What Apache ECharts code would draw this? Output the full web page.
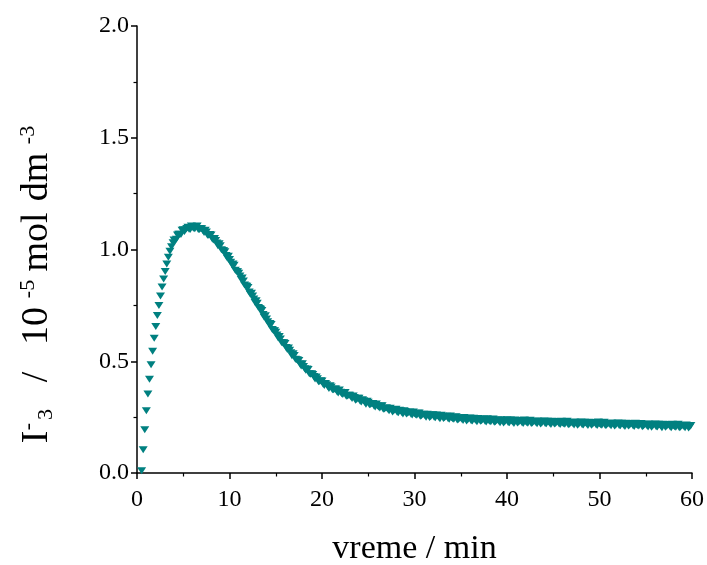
<!DOCTYPE html>
<html>
<head>
<meta charset="utf-8">
<script src="https://cdn.jsdelivr.net/npm/echarts@6/dist/echarts.min.js"></script>
<style>
  html, body { margin: 0; padding: 0; background: #fff; }
  #chart { width: 707px; height: 565px; }
</style>
</head>
<body>
<div id="chart"></div>
<script>
// rise phase, sparse points (min, 10^-5 mol dm^-3)
const riseTime = [0.5, 0.67, 0.84, 1.01, 1.18, 1.35, 1.52, 1.69, 1.86, 2.03, 2.2,
  2.37, 2.54, 2.71, 2.88, 3.05, 3.22, 3.39, 3.56, 3.73, 3.9];
const riseValue = [0.01, 0.104, 0.194, 0.278, 0.353, 0.42, 0.484, 0.545, 0.603, 0.655, 0.705,
  0.75, 0.792, 0.832, 0.868, 0.902, 0.935, 0.965, 0.992, 1.012, 1.03];

// peak + decay phase (quarter-minute samples)
const decayTime = [
  4, 4.25, 4.5, 4.75, 5, 5.25, 5.5, 5.75, 6, 6.25, 6.5, 6.75, 7, 7.25, 7.5, 7.75,
  8, 8.25, 8.5, 8.75, 9, 9.25, 9.5, 9.75, 10, 10.25, 10.5, 10.75, 11, 11.25, 11.5, 11.75,
  12, 12.25, 12.5, 12.75, 13, 13.25, 13.5, 13.75, 14, 14.25, 14.5, 14.75, 15, 15.25, 15.5, 15.75,
  16, 16.25, 16.5, 16.75, 17, 17.25, 17.5, 17.75, 18, 18.25, 18.5, 18.75, 19, 19.25, 19.5, 19.75,
  20, 20.25, 20.5, 20.75, 21, 21.25, 21.5, 21.75, 22, 22.25, 22.5, 22.75, 23, 23.25, 23.5, 23.75,
  24, 24.25, 24.5, 24.75, 25, 25.25, 25.5, 25.75, 26, 26.25, 26.5, 26.75, 27, 27.25, 27.5, 27.75,
  28, 28.25, 28.5, 28.75, 29, 29.25, 29.5, 29.75, 30, 30.25, 30.5, 30.75, 31, 31.25, 31.5, 31.75,
  32, 32.25, 32.5, 32.75, 33, 33.25, 33.5, 33.75, 34, 34.25, 34.5, 34.75, 35, 35.25, 35.5, 35.75,
  36, 36.25, 36.5, 36.75, 37, 37.25, 37.5, 37.75, 38, 38.25, 38.5, 38.75, 39, 39.25, 39.5, 39.75,
  40, 40.25, 40.5, 40.75, 41, 41.25, 41.5, 41.75, 42, 42.25, 42.5, 42.75, 43, 43.25, 43.5, 43.75,
  44, 44.25, 44.5, 44.75, 45, 45.25, 45.5, 45.75, 46, 46.25, 46.5, 46.75, 47, 47.25, 47.5, 47.75,
  48, 48.25, 48.5, 48.75, 49, 49.25, 49.5, 49.75, 50, 50.25, 50.5, 50.75, 51, 51.25, 51.5, 51.75,
  52, 52.25, 52.5, 52.75, 53, 53.25, 53.5, 53.75, 54, 54.25, 54.5, 54.75, 55, 55.25, 55.5, 55.75,
  56, 56.25, 56.5, 56.75, 57, 57.25, 57.5, 57.75, 58, 58.25, 58.5, 58.75, 59, 59.25, 59.5, 59.75
];
const decayValue = [
  1.043, 1.046, 1.068, 1.067, 1.088, 1.087, 1.099, 1.089, 1.099, 1.093, 1.105, 1.090, 1.093, 1.076, 1.078, 1.064,
  1.065, 1.042, 1.040, 1.017, 1.017, 0.996, 0.990, 0.962, 0.955, 0.933, 0.930, 0.902, 0.894, 0.867, 0.859, 0.837,
  0.830, 0.800, 0.792, 0.764, 0.760, 0.736, 0.727, 0.697, 0.689, 0.667, 0.664, 0.637, 0.630, 0.605, 0.600, 0.582,
  0.579, 0.553, 0.549, 0.525, 0.526, 0.507, 0.503, 0.479, 0.476, 0.460, 0.463, 0.442, 0.441, 0.421, 0.422, 0.409,
  0.412, 0.392, 0.395, 0.378, 0.385, 0.373, 0.376, 0.358, 0.361, 0.351, 0.360, 0.344, 0.348, 0.333, 0.338, 0.329,
  0.335, 0.318, 0.323, 0.308, 0.317, 0.307, 0.311, 0.295, 0.300, 0.291, 0.301, 0.286, 0.291, 0.278, 0.284, 0.277,
  0.285, 0.270, 0.277, 0.264, 0.275, 0.267, 0.273, 0.259, 0.265, 0.258, 0.269, 0.256, 0.263, 0.250, 0.258, 0.252,
  0.261, 0.247, 0.255, 0.243, 0.255, 0.247, 0.254, 0.240, 0.247, 0.240, 0.252, 0.239, 0.246, 0.235, 0.243, 0.237,
  0.246, 0.233, 0.241, 0.229, 0.242, 0.234, 0.242, 0.228, 0.236, 0.229, 0.242, 0.229, 0.237, 0.225, 0.234, 0.228,
  0.238, 0.225, 0.233, 0.222, 0.235, 0.227, 0.235, 0.222, 0.230, 0.223, 0.236, 0.224, 0.231, 0.220, 0.229, 0.223,
  0.233, 0.220, 0.228, 0.217, 0.230, 0.222, 0.230, 0.217, 0.224, 0.218, 0.231, 0.218, 0.226, 0.215, 0.224, 0.218,
  0.228, 0.215, 0.224, 0.212, 0.225, 0.218, 0.226, 0.213, 0.220, 0.214, 0.227, 0.214, 0.222, 0.211, 0.220, 0.214,
  0.224, 0.211, 0.219, 0.208, 0.221, 0.214, 0.221, 0.208, 0.216, 0.210, 0.222, 0.210, 0.218, 0.206, 0.215, 0.210,
  0.219, 0.206, 0.215, 0.203, 0.216, 0.209, 0.217, 0.203, 0.211, 0.205, 0.218, 0.205, 0.213, 0.202, 0.211, 0.206
];

// the in-between samples of the same band
const decayTimeB = [
  4.125, 4.375, 4.625, 4.875, 5.125, 5.375, 5.625, 5.875, 6.125, 6.375, 6.625, 6.875, 7.125, 7.375, 7.625, 7.875,
  8.125, 8.375, 8.625, 8.875, 9.125, 9.375, 9.625, 9.875, 10.125, 10.375, 10.625, 10.875, 11.125, 11.375, 11.625, 11.875,
  12.125, 12.375, 12.625, 12.875, 13.125, 13.375, 13.625, 13.875, 14.125, 14.375, 14.625, 14.875, 15.125, 15.375, 15.625, 15.875,
  16.125, 16.375, 16.625, 16.875, 17.125, 17.375, 17.625, 17.875, 18.125, 18.375, 18.625, 18.875, 19.125, 19.375, 19.625, 19.875,
  20.125, 20.375, 20.625, 20.875, 21.125, 21.375, 21.625, 21.875, 22.125, 22.375, 22.625, 22.875, 23.125, 23.375, 23.625, 23.875,
  24.125, 24.375, 24.625, 24.875, 25.125, 25.375, 25.625, 25.875, 26.125, 26.375, 26.625, 26.875, 27.125, 27.375, 27.625, 27.875,
  28.125, 28.375, 28.625, 28.875, 29.125, 29.375, 29.625, 29.875, 30.125, 30.375, 30.625, 30.875, 31.125, 31.375, 31.625, 31.875,
  32.125, 32.375, 32.625, 32.875, 33.125, 33.375, 33.625, 33.875, 34.125, 34.375, 34.625, 34.875, 35.125, 35.375, 35.625, 35.875,
  36.125, 36.375, 36.625, 36.875, 37.125, 37.375, 37.625, 37.875, 38.125, 38.375, 38.625, 38.875, 39.125, 39.375, 39.625, 39.875,
  40.125, 40.375, 40.625, 40.875, 41.125, 41.375, 41.625, 41.875, 42.125, 42.375, 42.625, 42.875, 43.125, 43.375, 43.625, 43.875,
  44.125, 44.375, 44.625, 44.875, 45.125, 45.375, 45.625, 45.875, 46.125, 46.375, 46.625, 46.875, 47.125, 47.375, 47.625, 47.875,
  48.125, 48.375, 48.625, 48.875, 49.125, 49.375, 49.625, 49.875, 50.125, 50.375, 50.625, 50.875, 51.125, 51.375, 51.625, 51.875,
  52.125, 52.375, 52.625, 52.875, 53.125, 53.375, 53.625, 53.875, 54.125, 54.375, 54.625, 54.875, 55.125, 55.375, 55.625, 55.875,
  56.125, 56.375, 56.625, 56.875, 57.125, 57.375, 57.625, 57.875, 58.125, 58.375, 58.625, 58.875, 59.125, 59.375, 59.625, 59.875
];
const decayValueB = [
  1.039, 1.065, 1.068, 1.086, 1.080, 1.094, 1.091, 1.105, 1.095, 1.103, 1.089, 1.094, 1.085, 1.086, 1.064, 1.067,
  1.048, 1.049, 1.029, 1.026, 0.999, 0.994, 0.973, 0.970, 0.943, 0.935, 0.907, 0.900, 0.881, 0.872, 0.841, 0.836,
  0.810, 0.804, 0.779, 0.771, 0.741, 0.733, 0.709, 0.704, 0.677, 0.669, 0.642, 0.636, 0.618, 0.611, 0.584, 0.583,
  0.561, 0.559, 0.538, 0.534, 0.509, 0.506, 0.488, 0.489, 0.467, 0.465, 0.444, 0.444, 0.432, 0.430, 0.408, 0.413,
  0.397, 0.401, 0.387, 0.390, 0.372, 0.376, 0.364, 0.371, 0.355, 0.359, 0.343, 0.348, 0.341, 0.344, 0.326, 0.334,
  0.321, 0.328, 0.316, 0.321, 0.305, 0.310, 0.300, 0.309, 0.295, 0.300, 0.285, 0.291, 0.285, 0.290, 0.273, 0.283,
  0.272, 0.281, 0.271, 0.278, 0.264, 0.271, 0.263, 0.273, 0.261, 0.267, 0.254, 0.262, 0.257, 0.263, 0.248, 0.259,
  0.249, 0.259, 0.250, 0.258, 0.244, 0.252, 0.244, 0.255, 0.243, 0.250, 0.237, 0.245, 0.241, 0.248, 0.233, 0.244,
  0.234, 0.245, 0.236, 0.244, 0.231, 0.239, 0.232, 0.243, 0.232, 0.239, 0.227, 0.235, 0.232, 0.238, 0.224, 0.235,
  0.226, 0.237, 0.228, 0.237, 0.224, 0.232, 0.225, 0.237, 0.226, 0.233, 0.221, 0.230, 0.226, 0.233, 0.219, 0.230,
  0.221, 0.232, 0.223, 0.232, 0.219, 0.227, 0.220, 0.232, 0.220, 0.228, 0.216, 0.224, 0.221, 0.228, 0.214, 0.225,
  0.216, 0.227, 0.219, 0.227, 0.214, 0.223, 0.216, 0.228, 0.216, 0.224, 0.212, 0.220, 0.217, 0.224, 0.210, 0.221,
  0.212, 0.223, 0.214, 0.223, 0.210, 0.219, 0.211, 0.223, 0.212, 0.220, 0.207, 0.216, 0.213, 0.219, 0.205, 0.217,
  0.207, 0.218, 0.210, 0.218, 0.205, 0.214, 0.207, 0.218, 0.207, 0.215, 0.203, 0.211, 0.208, 0.215, 0.201, 0.212
];

const xTicks = [0, 10, 20, 30, 40, 50, 60];
const yTicks = [0.0, 0.5, 1.0, 1.5, 2.0];

const font = 'Liberation Serif';
const markerColor = '#008080';

const points = [];
for (let i = 0; i < riseTime.length; i++) points.push([riseTime[i], riseValue[i]]);
for (let i = 0; i < decayTime.length; i++) points.push([decayTime[i], decayValue[i]]);
for (let i = 0; i < decayTimeB.length; i++) points.push([decayTimeB[i], decayValueB[i]]);

const chart = echarts.init(document.getElementById('chart'), null, { renderer: 'canvas' });

const axisCommon = {
  axisLine: { show: true, lineStyle: { color: '#000', width: 1.5 } },
  axisTick: { show: true, inside: false, length: 6, lineStyle: { color: '#000', width: 1.5 } },
  minorTick: { show: true, splitNumber: 2, length: 3.5, lineStyle: { color: '#000', width: 1.2 } },
  splitLine: { show: false },
  minorSplitLine: { show: false }
};

// y title pieces, spaced out along the axis like the original
const tok = (size, width, va) => ({
  fontFamily: font, fontSize: size, color: '#000', lineHeight: 40,
  verticalAlign: va, width: width, align: 'center'
});

chart.setOption({
  animation: false,
  backgroundColor: '#fff',
  grid: { left: 137, right: 15, top: 26, bottom: 92, outerBoundsMode: 'none', containLabel: false },
  xAxis: Object.assign({}, axisCommon, {
    type: 'value',
    min: xTicks[0],
    max: xTicks[xTicks.length - 1],
    interval: 10,
    name: 'vreme / min',
    nameLocation: 'middle',
    nameGap: 59,
    nameTextStyle: { fontFamily: font, fontSize: 34, color: '#000' },
    axisLabel: { margin: 15, fontFamily: font, fontSize: 24, color: '#000' }
  }),
  yAxis: Object.assign({}, axisCommon, {
    type: 'value',
    min: yTicks[0],
    max: yTicks[yTicks.length - 1],
    interval: 0.5,
    name: '{a|I}{b|-}{c|3}{d|/}{e|10}{f|-5}{g|mol}{h|dm}{i|-3}',
    nameLocation: 'middle',
    nameRotate: 90,
    nameGap: 80,
    nameTextStyle: {
      fontFamily: font, fontSize: 38, color: '#000',
      padding: [0, 71, 0, 0],
      rich: {
        a: tok(38, 20, 'middle'),
        b: tok(22, 1, 'top'),
        c: tok(22, 23, 'bottom'),
        d: tok(38, 52, 'middle'),
        e: tok(38, 50, 'middle'),
        f: tok(22, 24, 'top'),
        g: tok(38, 70, 'middle'),
        h: tok(38, 60, 'middle'),
        i: tok(22, 24, 'top')
      }
    },
    axisLabel: {
      margin: 8, fontFamily: font, fontSize: 24, color: '#000',
      formatter: v => v.toFixed(1)
    }
  }),
  series: [{
    type: 'scatter',
    data: points,
    symbol: 'triangle',
    symbolRotate: 180,
    symbolSize: [9, 7],
    itemStyle: { color: markerColor, opacity: 1 },
    clip: false
  }]
});
</script>
</body>
</html>
